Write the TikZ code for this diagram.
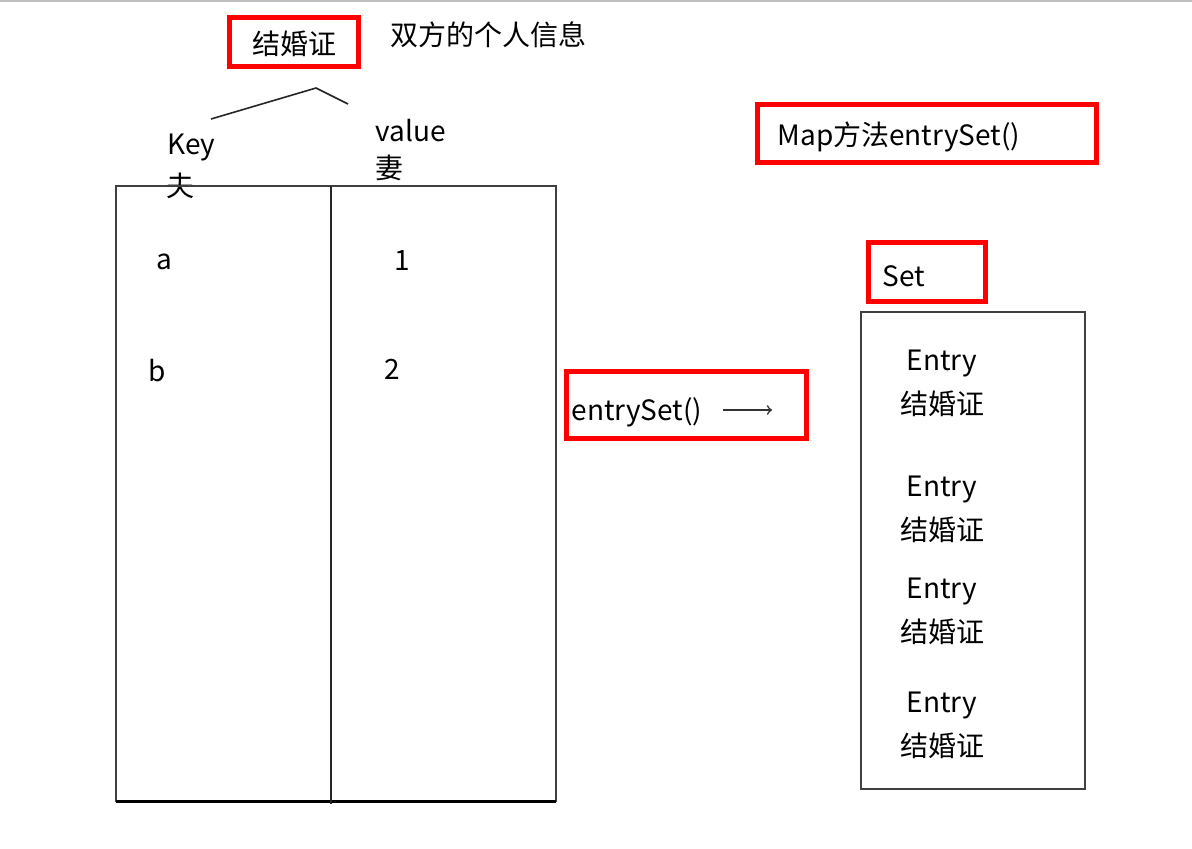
\documentclass[tikz,border=0pt]{standalone}
\usepackage{fontspec}
\setmainfont{Noto Sans CJK SC}
\usepackage{tikz}
\usetikzlibrary{arrows,positioning}
\tikzset{%
	redbox/.style = {draw=red, line width=2.5pt, rectangle, inner ysep=0pt, text height=12pt, text depth=0pt, font=\fontsize{14}{16}\selectfont},
	txt/.style    = {inner sep=0pt, font=\fontsize{14}{16}\selectfont},
	entry/.style  = {inner sep=0pt, align=center, font=\fontsize{14}{22}\selectfont},
	frame/.style  = {draw=black!75, line width=1pt},
	arrow/.style  = {line width=0.8pt, black!80, ->, >=to},
}

\begin{document}
\begin{tikzpicture}[x=0.5pt,y=-0.5pt]
	\useasboundingbox (0,0) rectangle (1192,848);
	\draw[black!25, line width=1pt] (0,1) -- (1192,1);  % top edge
	
	% marriage certificate and both persons
	\node[redbox, minimum width=64.5pt, minimum height=24.5pt, inner xsep=0pt] (cert) at (294,42) {结婚证};
	\node[txt, anchor=west] (info) at (390,35) {双方的个人信息};
	\coordinate (keyend) at (211,119);
	\coordinate (peak) at (316,88);
	\coordinate (valend) at (348,104);
	\draw[black!85, line width=0.8pt] (keyend) -- (peak) -- (valend);
	
	% the map
	\node[txt, anchor=west] (key) at (167,148) {Key};
	\node[txt, anchor=west] (husband) at (166,186) {夫};
	\node[txt, anchor=west] (value) at (375,131) {value};
	\node[txt, anchor=west] (wife) at (375,168) {妻};
	\draw[frame] (116,186) rectangle (556,801);
	\draw[black, line width=1.5pt] (116,801) -- (556,801);
	\draw[black!85, line width=1pt] (331,186) -- (331,804);
	\node[txt] (ka) at (164,262) {a};
	\node[txt] (v1) at (402,261) {1};
	\node[txt] (kb) at (157,371) {b};
	\node[txt] (v2) at (392,369) {2};
	
	% the call
	\node[redbox, text height=15pt, minimum width=120pt, minimum height=33.5pt, inner xsep=2.5pt, text width=115pt, align=left] (call) at (686.5,405) {entrySet()};
	\coordinate (arrstart) at (723,410);
	\coordinate (arrend) at (772,410);
	\draw[arrow] (arrstart) -- (arrend);
	
	% the set
	\node[redbox, minimum width=169.5pt, minimum height=29pt, inner xsep=10pt, text width=149.5pt, align=left] (method) at (927,133.5) {Map方法entrySet()};
	\node[redbox, text height=14pt, minimum width=58.5pt, minimum height=29.5pt, inner xsep=7pt, text width=44.5pt, align=left] (setlabel) at (927,272) {Set};
	\draw[frame] (861,312) rectangle (1085,789);
	\foreach \y [count=\i] in {383,509,611,725}
		\node[entry] (entry\i) at (942,\y) {Entry\\结婚证};
	
\end{tikzpicture}
\end{document}
